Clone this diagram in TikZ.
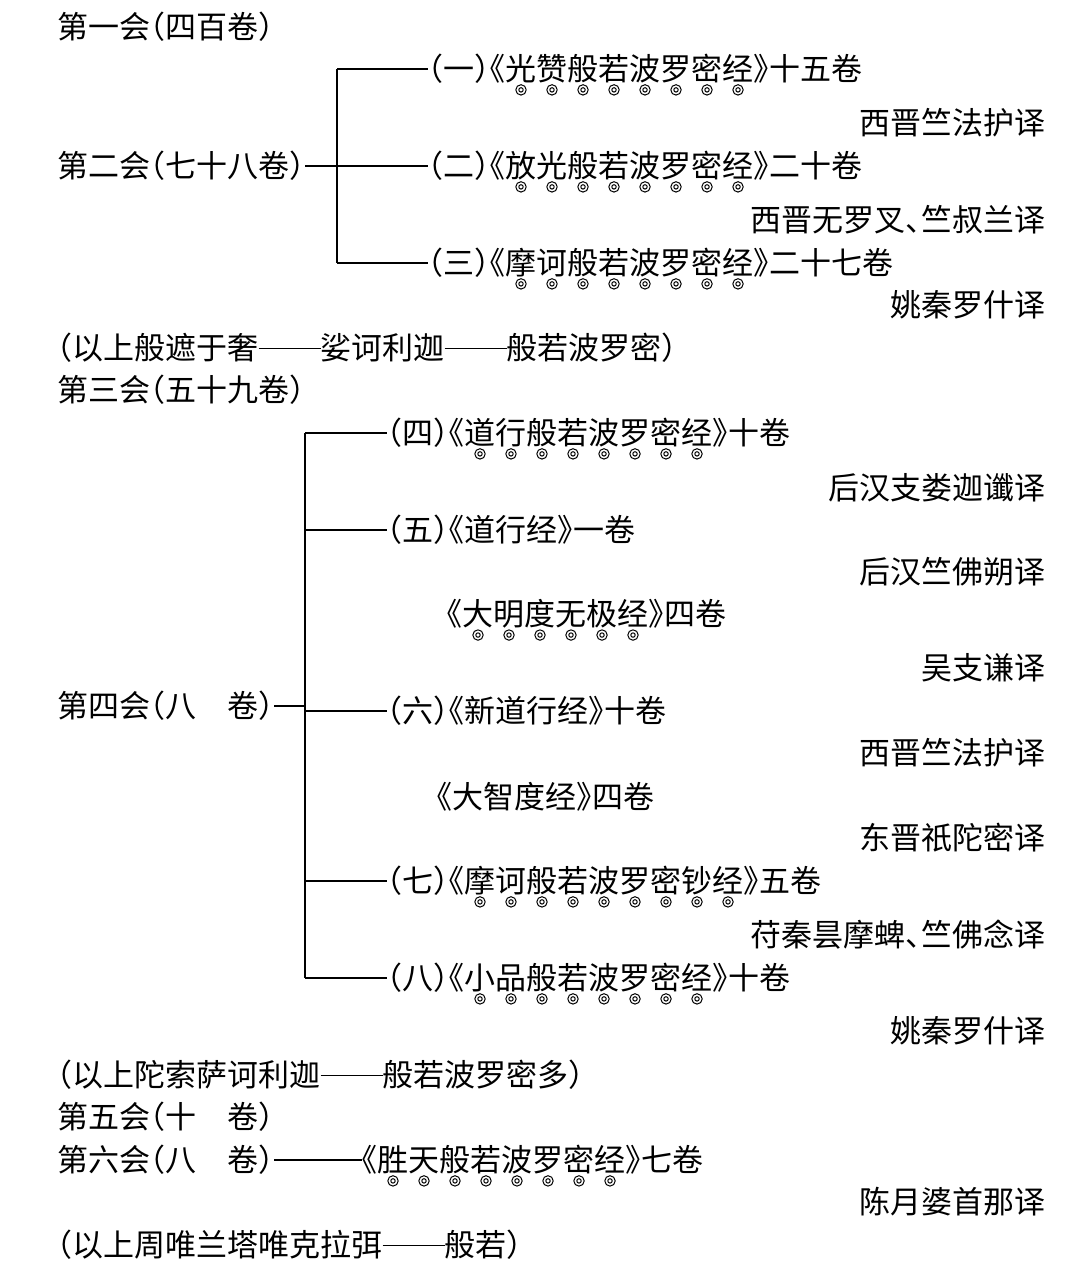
\documentclass[tikz,border=0pt]{standalone}
\usepackage{fontspec}
\usepackage{tikz}
\usetikzlibrary{calc}
\newfontfamily\cjk[RawFeature=+halt]{Noto Sans CJK SC}
\newcommand{\ddash}{\rule[0.35em]{2em}{0.7pt}}
\tikzstyle{txt}=[font=\cjk\fontsize{15.5pt}{18pt}\selectfont, inner sep=0pt, outer sep=0pt]
\tikzstyle{lft}=[txt, anchor=west]
\tikzstyle{rgt}=[txt, anchor=east]
\tikzstyle{seq}=[txt, anchor=base west]
\tikzstyle{branch}=[draw, line width=0.7pt]
\tikzstyle{ring}=[draw, line width=0.5pt]

\begin{document}
\begin{tikzpicture}[x=0.5pt, y=-0.5pt]

  \path[use as bounding box, fill=white] (0,0) rectangle (1069,1268);

  \def\lx{57};
  \def\rx{1045};
  \coordinate (br1) at (337,0);
  \coordinate (br2) at (305,0);

   \foreach \y/\name/\label in {27/hui1/{第一会（四百卷）}, 166/hui2/{第二会（七十八卷）}, 348/note1/{（以上般遮于奢\ddash 娑诃利迦\ddash 般若波罗密）}, 390/hui3/{第三会（五十九卷）}, 706/hui4/{第四会（八\hspace{1em}卷）}, 1075/note2/{（以上陀索萨诃利迦\ddash 般若波罗密多）}, 1117/hui5/{第五会（十\hspace{1em}卷）}, 1160/hui6/{第六会（八\hspace{1em}卷）}, 1245/note3/{（以上周唯兰塔唯克拉弭\ddash 般若）}}
          \node[lft] (\name) at (\lx,\y) {\label};

   \foreach \y/\name/\label in {123/tr1/西晋竺法护译, 220/tr2/西晋无罗叉、竺叔兰译, 305/tr3/姚秦罗什译, 488/tr4/后汉支娄迦谶译, 572/tr5/后汉竺佛朔译, 668/tr6/吴支谦译, 753/tr7/西晋竺法护译, 838/tr8/东晋祇陀密译, 935/tr9/苻秦昙摩蜱、竺佛念译, 1031/tr10/姚秦罗什译, 1202/tr11/陈月婆首那译}
          \node[rgt] (\name) at (\rx,\y) {\label};

   % titles with marks under each character
   \foreach \x/\y/\name/\pre/\title/\post/\n in {428/69/b1/（一）《/光赞般若波罗密经/》十五卷/8, 428/166/b2/（二）《/放光般若波罗密经/》二十卷/8, 428/263/b3/（三）《/摩诃般若波罗密经/》二十七卷/8, 387/433/c1/（四）《/道行般若波罗密经/》十卷/8, 447/614/d1/《/大明度无极经/》四卷/6, 387/881/c4/（七）《/摩诃般若波罗密钞经/》五卷/9, 387/978/c5/（八）《/小品般若波罗密经/》十卷/8, 362/1160/s6/《/胜天般若波罗密经/》七卷/8}
   {
          \node[lft] (\name-pre) at (\x,\y) {\pre};
          \node[seq] (\name-t) at (\name-pre.base east) {\title};
          \node[seq] (\name-post) at (\name-t.base east) {\post};
          \foreach \i in {1,...,\n}
                \draw[ring] ($(\name-t.west)!{(\i-0.5)/\n}!(\name-t.east)$) ++(0,21) circle (2.6pt) circle (1.1pt);
   }

   \node[lft] (c2-pre) at (387,530) {（五）《道行经》一卷};
   \node[lft] (c3-pre) at (387,711) {（六）《新道行经》十卷};
   \node[lft] (d2) at (437,797) {《大智度经》四卷};

   % brackets
   \draw[branch] (b1-pre.west -| br1) -- (b3-pre.west -| br1);
   \foreach \b in {b1,b2,b3}
          \draw[branch] (\b-pre.west -| br1) -- (\b-pre.west);
   \draw[branch] (hui2.east) -- (hui2.east -| br1);

   \draw[branch] (c1-pre.west -| br2) -- (c5-pre.west -| br2);
   \foreach \b in {c1,c2,c3,c4,c5}
          \draw[branch] (\b-pre.west -| br2) -- (\b-pre.west);
   \draw[branch] (hui4.east) -- (hui4.east -| br2);

   \draw[branch] (hui6.east) -- (s6-pre.west);

\end{tikzpicture}
\end{document}
